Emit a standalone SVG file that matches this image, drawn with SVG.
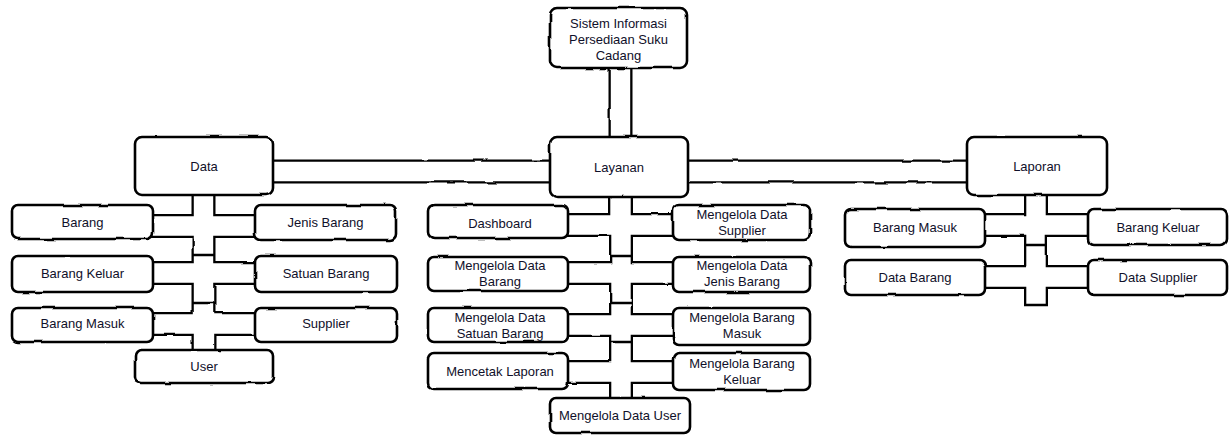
<svg xmlns="http://www.w3.org/2000/svg" width="1230" height="435" viewBox="0 0 1230 435">
<defs>
<filter id="rough" filterUnits="userSpaceOnUse" x="0" y="0" width="1230" height="435">
<feTurbulence type="fractalNoise" baseFrequency="0.035" numOctaves="2" seed="3" result="n"/>
<feDisplacementMap in="SourceGraphic" in2="n" scale="2.5" xChannelSelector="R" yChannelSelector="G"/>
</filter>
</defs>
<style>
.outer{fill:none;stroke:#000;stroke-width:24}
.inner{fill:none;stroke:#fff;stroke-width:19.4}
.cap{stroke:#000;stroke-width:2.4;fill:none}
.box{fill:#fff;stroke:#000;stroke-width:2.6}
.t{font-family:"Liberation Sans",Arial,sans-serif;font-size:13px;fill:#10102a;text-anchor:middle}
</style>
<rect width="1230" height="435" fill="#fff"/>
<g id="connectors" filter="url(#rough)">
<g class="outer">
<path d="M620.5 60V145"/>
<path d="M260 171.5H980"/>
<path d="M203.5 190V360M140 226H268M140 273H268M140 324H268"/>
<path d="M621 190V405M560 225H685M560 273H685M560 325H685M560 372H685"/>
<path d="M1036 190V305M975 225H1100M975 277H1100"/>
</g>
<g class="inner">
<path d="M620.5 60V145"/>
<path d="M260 171.5H980"/>
<path d="M203.5 190V360M140 226H268M140 273H268M140 324H268"/>
<path d="M621 190V405M560 225H685M560 273H685M560 325H685M560 372H685"/>
<path d="M1036 190V305M975 225H1100M975 277H1100"/>
</g>
<g class="cap">
<path d="M192.5 255H214.5M192.5 303H214.5"/>
<path d="M610 256H632M610 303H632M610 342H632"/>
<path d="M1024.5 245H1047.5M1024 305H1048"/>
</g>
</g>
<g id="n-top"><rect class="box" filter="url(#rough)" x="550" y="8" width="137" height="60" rx="7"/><text class="t" x="618.5" y="27.5">Sistem Informasi</text><text class="t" x="618.5" y="43.5">Persediaan Suku</text><text class="t" x="618.5" y="59.5">Cadang</text></g>
<g id="n-data"><rect class="box" filter="url(#rough)" x="135" y="137" width="138" height="58" rx="7"/><text class="t" x="204" y="170.5">Data</text></g>
<g id="n-layanan"><rect class="box" filter="url(#rough)" x="550" y="137" width="138" height="60" rx="7"/><text class="t" x="619" y="171.5">Layanan</text></g>
<g id="n-laporan"><rect class="box" filter="url(#rough)" x="967" y="137" width="140" height="58" rx="7"/><text class="t" x="1037" y="170.5">Laporan</text></g>

<g id="n-barang"><rect class="box" filter="url(#rough)" x="12" y="205" width="141" height="34" rx="6"/><text class="t" x="82.5" y="226.5">Barang</text></g>
<g id="n-jenis"><rect class="box" filter="url(#rough)" x="255" y="205" width="141" height="35" rx="6"/><text class="t" x="325.5" y="227">Jenis Barang</text></g>
<g id="n-keluar"><rect class="box" filter="url(#rough)" x="12" y="256" width="141" height="36" rx="6"/><text class="t" x="82.5" y="278">Barang Keluar</text></g>
<g id="n-satuan"><rect class="box" filter="url(#rough)" x="255" y="256" width="142" height="36" rx="6"/><text class="t" x="326" y="278">Satuan Barang</text></g>
<g id="n-masuk"><rect class="box" filter="url(#rough)" x="12" y="308" width="141" height="34" rx="6"/><text class="t" x="82.5" y="328">Barang Masuk</text></g>
<g id="n-supplier"><rect class="box" filter="url(#rough)" x="255" y="308" width="142" height="34" rx="6"/><text class="t" x="326" y="328">Supplier</text></g>
<g id="n-user"><rect class="box" filter="url(#rough)" x="135" y="350" width="138" height="33" rx="6"/><text class="t" x="204" y="371">User</text></g>

<g id="n-dashboard"><rect class="box" filter="url(#rough)" x="428" y="205" width="140" height="33" rx="6"/><text class="t" x="500" y="227.5">Dashboard</text></g>
<g id="n-mds"><rect class="box" filter="url(#rough)" x="673" y="205" width="137" height="35" rx="6"/><text class="t" x="742" y="218.5">Mengelola Data</text><text class="t" x="742" y="234.5">Supplier</text></g>
<g id="n-mdb"><rect class="box" filter="url(#rough)" x="428" y="257" width="140" height="34" rx="6"/><text class="t" x="500" y="269.5">Mengelola Data</text><text class="t" x="500" y="285.5">Barang</text></g>
<g id="n-mdjb"><rect class="box" filter="url(#rough)" x="673" y="257" width="137" height="35" rx="6"/><text class="t" x="742" y="269.5">Mengelola Data</text><text class="t" x="742" y="285.5">Jenis Barang</text></g>
<g id="n-mdsb"><rect class="box" filter="url(#rough)" x="428" y="308" width="140" height="34" rx="6"/><text class="t" x="500" y="321.5">Mengelola Data</text><text class="t" x="500" y="337.5">Satuan Barang</text></g>
<g id="n-mbm"><rect class="box" filter="url(#rough)" x="673" y="308" width="137" height="37" rx="6"/><text class="t" x="742" y="321.5">Mengelola Barang</text><text class="t" x="742" y="337.5">Masuk</text></g>
<g id="n-cetak"><rect class="box" filter="url(#rough)" x="428" y="353" width="140" height="36" rx="6"/><text class="t" x="500" y="375.5">Mencetak Laporan</text></g>
<g id="n-mbk"><rect class="box" filter="url(#rough)" x="673" y="353" width="137" height="37" rx="6"/><text class="t" x="742" y="367.5">Mengelola Barang</text><text class="t" x="742" y="383.5">Keluar</text></g>
<g id="n-mdu"><rect class="box" filter="url(#rough)" x="550" y="398" width="140" height="35" rx="6"/><text class="t" x="620" y="420">Mengelola Data User</text></g>

<g id="n-lbm"><rect class="box" filter="url(#rough)" x="845" y="209" width="140" height="38" rx="6"/><text class="t" x="915" y="231.5">Barang Masuk</text></g>
<g id="n-lbk"><rect class="box" filter="url(#rough)" x="1088" y="209" width="139" height="36" rx="6"/><text class="t" x="1158" y="231.5">Barang Keluar</text></g>
<g id="n-ldb"><rect class="box" filter="url(#rough)" x="845" y="260" width="140" height="35" rx="6"/><text class="t" x="915" y="281.5">Data Barang</text></g>
<g id="n-lds"><rect class="box" filter="url(#rough)" x="1088" y="260" width="139" height="35" rx="6"/><text class="t" x="1158" y="281.5">Data Supplier</text></g>
</svg>
